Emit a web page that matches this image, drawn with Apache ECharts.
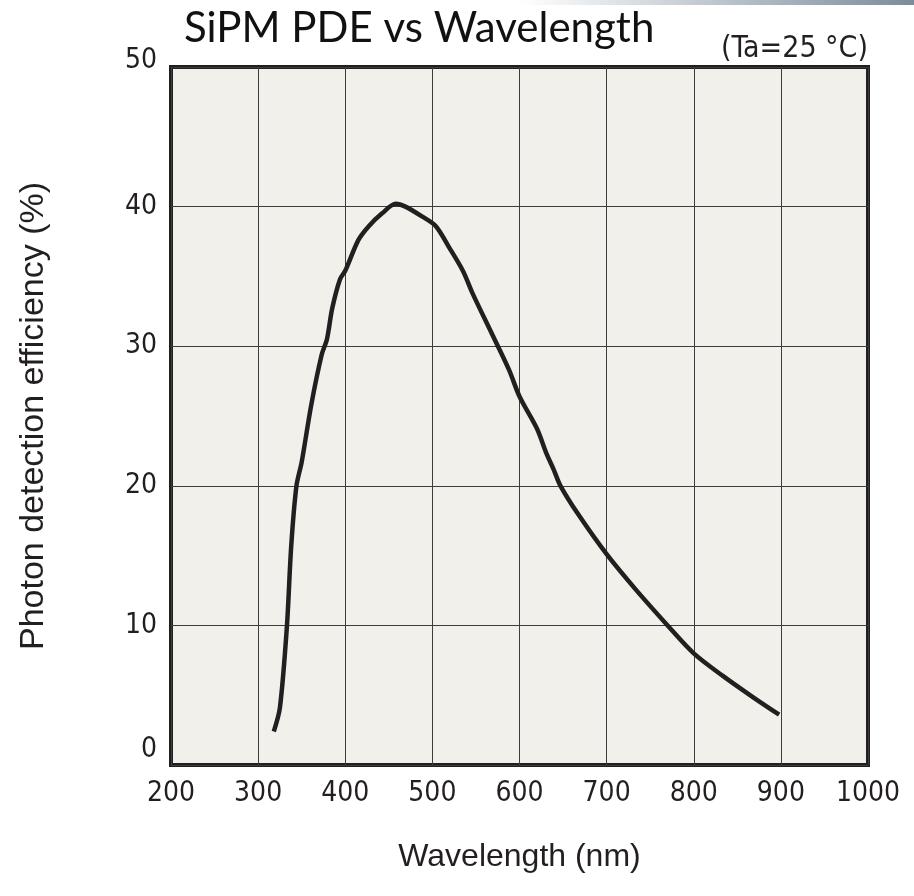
<!DOCTYPE html>
<html>
<head>
<meta charset="utf-8">
<script src="https://cdn.jsdelivr.net/npm/echarts@6/dist/echarts.min.js"></script>
<style>html,body{margin:0;padding:0;background:#fff;}#c{width:914px;height:896px;}</style>
</head>
<body>
<div id="c"></div>
<script>
// Data
var wavelength = [318, 325, 333, 338, 344, 350, 361, 373, 379, 385, 394, 400, 415, 427, 442, 458, 469, 488, 504, 519, 535, 546, 569, 588, 600, 620, 631, 639, 647, 668, 700, 733, 770, 800, 833, 867, 898];
var pde = [2.4, 4.1, 9.9, 15.7, 20.0, 21.7, 25.8, 29.4, 30.5, 32.7, 34.8, 35.4, 37.6, 38.6, 39.5, 40.2, 40.0, 39.3, 38.6, 37.1, 35.4, 33.8, 30.8, 28.3, 26.4, 24.1, 22.3, 21.2, 20.0, 17.9, 15.1, 12.6, 10.0, 8.0, 6.4, 4.9, 3.6];
var xTicks = [200, 300, 400, 500, 600, 700, 800, 900, 1000];
var yTicks = [0, 10, 20, 30, 40, 50];
var titleText = 'SiPM PDE vs Wavelength';
var noteText = '(Ta=25 °C)';
var xName = 'Wavelength (nm)';
var yName = 'Photon detection efficiency (%)';

var points = wavelength.map(function (w, i) { return [w, pde[i]]; });
var tickFont = '"DejaVu Sans Condensed", "DejaVu Sans", sans-serif';
var chart = echarts.init(document.getElementById('c'));
chart.setOption({
  animation: false,
  backgroundColor: '#ffffff',
  title: {
    text: titleText,
    left: 179, top: 2,
    textStyle: { fontFamily: 'Lato', fontSize: 42, fontWeight: 'normal', color: '#111' }
  },
  graphic: [
    {
      type: 'rect', left: 520, top: 0,
      shape: { width: 394, height: 5 },
      style: { fill: new echarts.graphic.LinearGradient(0, 0, 1, 0, [
        { offset: 0, color: '#ffffff' }, { offset: 1, color: '#7b8c9c' }
      ]) },
      silent: true
    },
    {
      type: 'text', right: 46, top: 34,
      style: { text: noteText, font: '30px ' + tickFont, fill: '#231f20' }
    }
  ],
  grid: {
    left: 171, right: 46, top: 67, bottom: 131,
    show: true, backgroundColor: '#f1f0ea',
    borderColor: '#231f20', borderWidth: 4
  },
  xAxis: {
    type: 'value', min: 200, max: 1000, interval: 100,
    name: xName, nameLocation: 'middle', nameGap: 76,
    nameTextStyle: { fontFamily: 'Liberation Sans', fontSize: 32, color: '#231f20' },
    axisLine: { show: false }, axisTick: { show: false },
    axisLabel: { margin: 15, fontFamily: tickFont, fontSize: 28, color: '#231f20',
      formatter: function (v) { return xTicks.indexOf(v) >= 0 ? String(v) : ''; } },
    splitLine: { show: true, lineStyle: { color: '#3c3c3c', width: 1 } }
  },
  yAxis: {
    type: 'value', min: 0, max: 50, interval: 10,
    name: yName, nameLocation: 'middle', nameGap: 120, nameRotate: 90,
    nameTextStyle: { fontFamily: 'Liberation Sans', fontSize: 34, color: '#231f20' },
    axisLine: { show: false }, axisTick: { show: false },
    axisLabel: { margin: 14, fontFamily: tickFont, fontSize: 28, color: '#231f20',
      formatter: function (v) {
        if (yTicks.indexOf(v) < 0) return '';
        if (v === 0) return '{lo|0}';
        if (v === 50) return '{hi|50}';
        return String(v);
      },
      rich: {
        lo: { fontFamily: tickFont, fontSize: 28, color: '#231f20', padding: [0, 0, 30, 0] },
        hi: { fontFamily: tickFont, fontSize: 28, color: '#231f20', padding: [0, 0, 12, 0] }
      }
    },
    splitLine: { show: true, lineStyle: { color: '#3c3c3c', width: 1 } }
  },
  series: [{
    type: 'line', data: points, smooth: 0.3, showSymbol: false,
    lineStyle: { color: '#231f20', width: 4.5 }
  }]
});
</script>
</body>
</html>
